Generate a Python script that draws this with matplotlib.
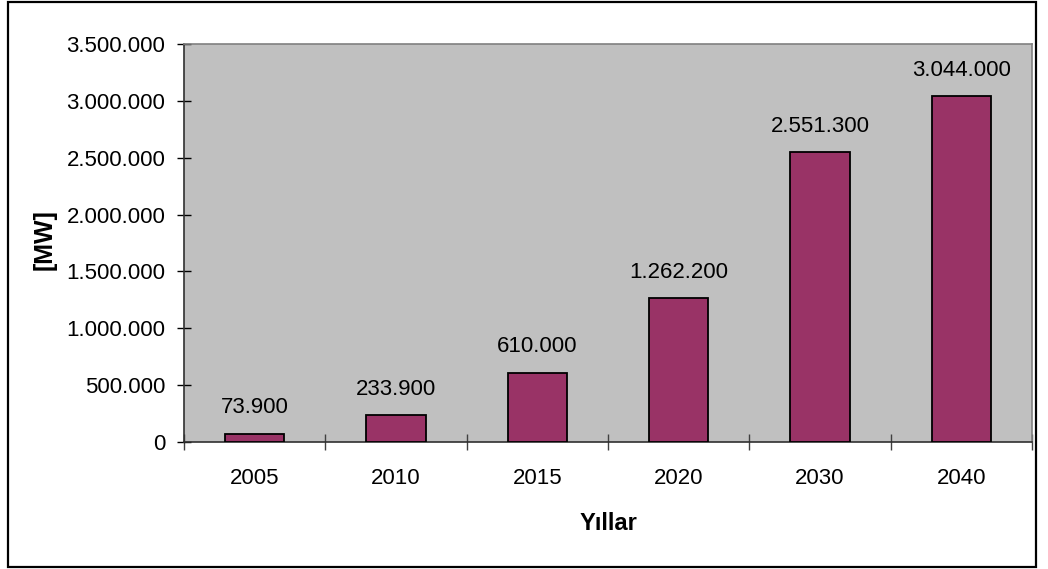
import matplotlib.pyplot as plt
import numpy as np
from matplotlib.ticker import FuncFormatter, FixedLocator
from matplotlib.patches import Rectangle

years = ["2005", "2010", "2015", "2020", "2030", "2040"]
capacity_mw = [73900, 233900, 610000, 1262200, 2551300, 3044000]

plt.rcParams["font.family"] = ["Liberation Sans", "DejaVu Sans"]


def dotted(v, pos=None):
    return f"{v:,.0f}".replace(",", ".")


fig = plt.figure(figsize=(10.48, 5.69), dpi=100)
ax = fig.add_axes([184 / 1048, 1 - 442 / 569, 848 / 1048, 398 / 569])
ax.set_facecolor("#C0C0C0")

x = np.arange(len(years))
bars = ax.bar(x, capacity_mw, width=0.42, color="#993366",
              edgecolor="black", linewidth=1.3, zorder=3)
for xi, v in zip(x, capacity_mw):
    ax.annotate(dotted(v), (xi, v), xytext=(0, 11), textcoords="offset points",
                ha="center", va="bottom", fontsize=16)

ax.set_xlim(-0.5, len(years) - 0.5)
ax.set_ylim(0, 3500000)
ax.set_yticks(np.arange(0, 3500001, 500000))
ax.yaxis.set_major_formatter(FuncFormatter(dotted))
ax.set_xticks(x)
ax.set_xticklabels(years)
ax.xaxis.set_minor_locator(FixedLocator(np.arange(-0.5, len(years), 1.0)))

ax.tick_params(axis="y", direction="inout", length=10, width=1, pad=8.5,
               labelsize=16)
ax.tick_params(axis="x", which="major", length=0, pad=19, labelsize=16)
ax.tick_params(axis="x", which="minor", direction="inout", length=11, width=1,
               color="#404040")

for side in ["top", "right"]:
    ax.spines[side].set_color("#808080")
    ax.spines[side].set_linewidth(1.2)
for side in ["left", "bottom"]:
    ax.spines[side].set_color("#303030")
    ax.spines[side].set_linewidth(1.2)

ax.set_ylabel("[MW]", fontsize=18, fontweight="bold")
ax.yaxis.set_label_coords(-0.1498, 0.5075)
ax.set_xlabel("Yıllar", fontsize=17, fontweight="bold")
ax.xaxis.set_label_coords(0.5, -0.176)

# outer chart frame
fig.patches.append(Rectangle((8 / 1048, 2 / 569), 1028 / 1048, 565 / 569,
                             transform=fig.transFigure, fill=False,
                             edgecolor="black", linewidth=1.6))

fig.savefig("out.png", dpi=100)
